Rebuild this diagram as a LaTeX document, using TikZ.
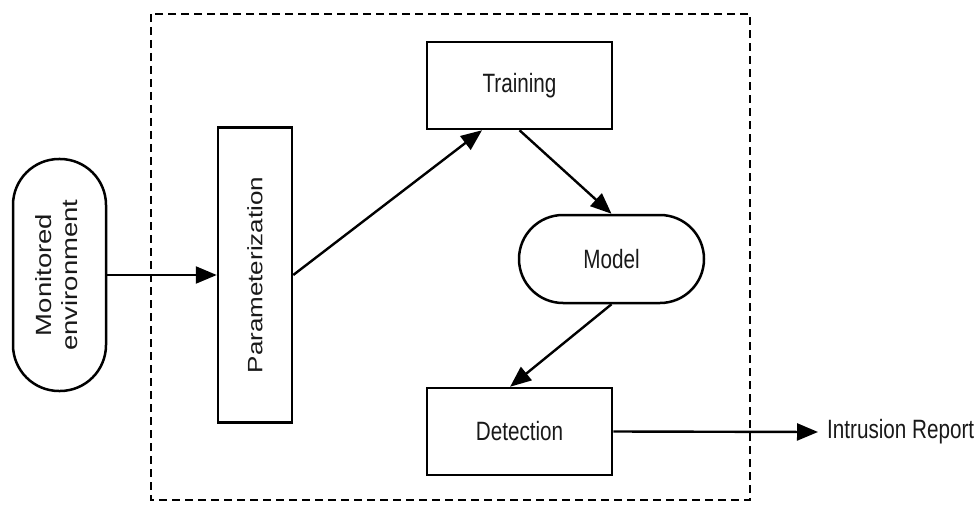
\documentclass[tikz,border=0pt]{standalone}
\usepackage{fontspec}
\setmainfont{Liberation Sans}
\newfontfamily\narsans[FakeStretch=0.78]{Liberation Sans}
\usetikzlibrary{arrows.meta,calc}
\begin{document}
\begin{tikzpicture}[x=1pt,y=-1pt,
  box/.style={draw=black, line width=2.5pt, fill=white, inner sep=0pt, font=\narsans\fontsize{26.5}{31}\selectfont, text=black!90},
  pill/.style={box, rounded corners=#1},
  conn/.style={line width=2.4pt, -{Triangle[length=21pt,width=17pt]}},
  lbl/.style={inner sep=0pt, font=\narsans\fontsize{26.5}{31}\selectfont, text=black!90}]
\useasboundingbox (0,0) rectangle (979,505);
\fill[white] (0,0) rectangle (979,505);
% dashed frame
\coordinate (f1) at (151,14);
\coordinate (f2) at (750,500);
\draw[line width=2.6pt, dash pattern=on 8pt off 5pt] (f1) rectangle (f2);
% nodes
\node[pill=46pt, minimum width=93pt, minimum height=232pt] (mon) at (59.5,275)
  {\rotatebox{90}{\scalebox{1}[0.8]{\rmfamily\fontsize{27.5}{33}\selectfont\begin{tabular}{@{}c@{}}Monitored\\environment\end{tabular}}}};
\node[box, minimum width=74pt, minimum height=295pt] (par) at (255,275)
  {\rotatebox{90}{\scalebox{1}[0.8]{\rmfamily\fontsize{26}{31}\selectfont Parameterization}}};
\node[box, minimum width=185pt, minimum height=87pt] (tra) at (519.5,85.5) {Training};
\node[pill=44pt, minimum width=185pt, minimum height=88pt] (mod) at (611.5,259) {Model};
\node[box, minimum width=185pt, minimum height=87pt] (det) at (519.5,431.5) {Detection};
\node[lbl, anchor=west] (rep) at (827,432) {Intrusion Report};
% connectors
\draw[conn] (mon.east) -- (par.west);
\draw[conn] (par.east) -- ($(tra.south west)!0.3!(tra.south east)$);
\draw[conn] (tra.south) -- (mod.north);
\draw[conn] (mod.south) -- ($(det.north west)!0.45!(det.north east)$);
\draw[conn] (det.east) -- ([xshift=-9pt]rep.west);
\end{tikzpicture}
\end{document}
